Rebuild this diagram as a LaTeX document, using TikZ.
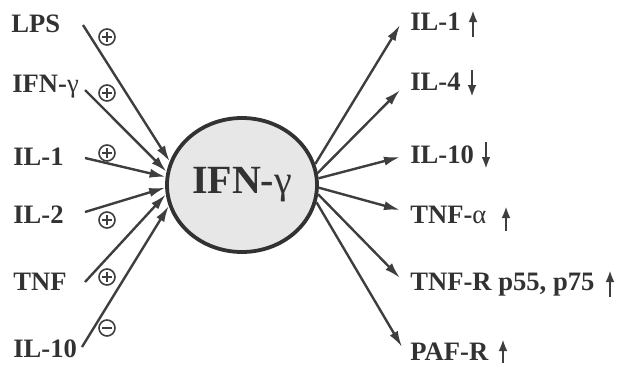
\documentclass[tikz,border=0pt]{standalone}
\usepackage{fontspec}
\setmainfont{Liberation Serif}
\usetikzlibrary{arrows.meta,shapes.geometric}
\definecolor{inkgray}{RGB}{50,50,50}
\definecolor{arrowgray}{RGB}{62,62,62}
\definecolor{cellfill}{RGB}{231,231,231}

\begin{document}
\begin{tikzpicture}[x=0.5pt,y=-0.5pt,
  font=\fontsize{13.3}{16}\selectfont\bfseries, text=inkgray,
  lbl/.style={anchor=base west, inner sep=0pt},
  arr/.style={draw=arrowgray, line width=1.2pt, -{Latex[length=8pt,width=4.6pt]}},
  updown/.style={draw=arrowgray, line width=1.2pt, -{Latex[length=6pt,width=4.4pt]}},
  signmark/.style={circle, draw=arrowgray, line width=0.8pt, minimum size=8pt, inner sep=0pt},
  possign/.style={signmark, path picture={
    \draw[arrowgray, line width=0.8pt] ([xshift=-2.5pt]path picture bounding box.center) -- ([xshift=2.5pt]path picture bounding box.center);
    \draw[arrowgray, line width=0.8pt] ([yshift=-2.5pt]path picture bounding box.center) -- ([yshift=2.5pt]path picture bounding box.center);}},
  negsign/.style={signmark, path picture={
    \draw[arrowgray, line width=0.8pt] ([xshift=-2.5pt]path picture bounding box.center) -- ([xshift=2.5pt]path picture bounding box.center);}}]
\useasboundingbox (0,0) rectangle (617,365);

% central cytokine
\node[ellipse, draw=inkgray, fill=cellfill, line width=1.9pt, minimum width=75pt, minimum height=67pt, inner sep=0pt,
  font=\fontsize{20}{24}\selectfont\bfseries] (ifn) at (242,185) {IFN-{\mdseries γ}};

% inducers (left)
\node[lbl] (lps) at (11,32) {LPS};
\node[lbl] (ifng) at (12,92) {IFN-{\mdseries γ}};
\node[lbl] (ilone) at (13,165) {IL-1};
\node[lbl] (iltwo) at (13,223) {IL-2};
\node[lbl] (tnf) at (13,290) {TNF};
\node[lbl] (ilten) at (13,357) {IL-10};

\coordinate (lps-tail) at (83,25);
\coordinate (ifng-tail) at (85,90);
\coordinate (ilone-tail) at (85,158);
\coordinate (iltwo-tail) at (85,212);
\coordinate (tnf-tail) at (85,282);
\coordinate (ilten-tail) at (82,347);

\draw[arr] (lps-tail) -- (ifn.162);
\draw[arr] (ifng-tail) -- (ifn.170);
\draw[arr] (ilone-tail) -- (ifn.174);
\draw[arr] (iltwo-tail) -- (ifn.182);
\draw[arr] (tnf-tail) -- (ifn.187);
\draw[arr] (ilten-tail) -- (ifn.196);

\node[possign] (lps-sign) at (107,37) {};
\node[possign] (ifng-sign) at (107,93) {};
\node[possign] (ilone-sign) at (107,153) {};
\node[possign] (iltwo-sign) at (107,220) {};
\node[possign] (tnf-sign) at (107,277) {};
\node[negsign] (ilten-sign) at (107,328) {};

% effects (right)
\node[lbl] (out-ilone) at (410,30) {IL-1};
\node[lbl] (out-ilfour) at (410,90) {IL-4};
\node[lbl] (out-ilten) at (410,163) {IL-10};
\node[lbl] (out-tnfa) at (410,223) {TNF-{\mdseries α}};
\node[lbl] (out-tnfr) at (410,290) {TNF-R p55, p75};
\node[lbl] (out-pafr) at (410,360) {PAF-R};

\coordinate (out-ilone-tip) at (400,25);
\coordinate (out-ilfour-tip) at (400,90);
\coordinate (out-ilten-tip) at (400,157);
\coordinate (out-tnfa-tip) at (400,210);
\coordinate (out-tnfr-tip) at (400,278);
\coordinate (out-pafr-tip) at (402,347);

\draw[arr] (ifn.16) -- (out-ilone-tip);
\draw[arr] (ifn.9) -- (out-ilfour-tip);
\draw[arr] (ifn.5) -- (out-ilten-tip);
\draw[arr] (ifn.-2) -- (out-tnfa-tip);
\draw[arr] (ifn.-7) -- (out-tnfr-tip);
\draw[arr] (ifn.-13) -- (out-pafr-tip);

% up / down marks
\draw[updown] (473,37) -- (473,10);
\draw[updown] (472,70) -- (472,97);
\draw[updown] (486,142) -- (486,169);
\draw[updown] (506,231) -- (506,206);
\draw[updown] (610,297) -- (610,270);
\draw[updown] (503,363) -- (503,339);
\end{tikzpicture}
\end{document}
